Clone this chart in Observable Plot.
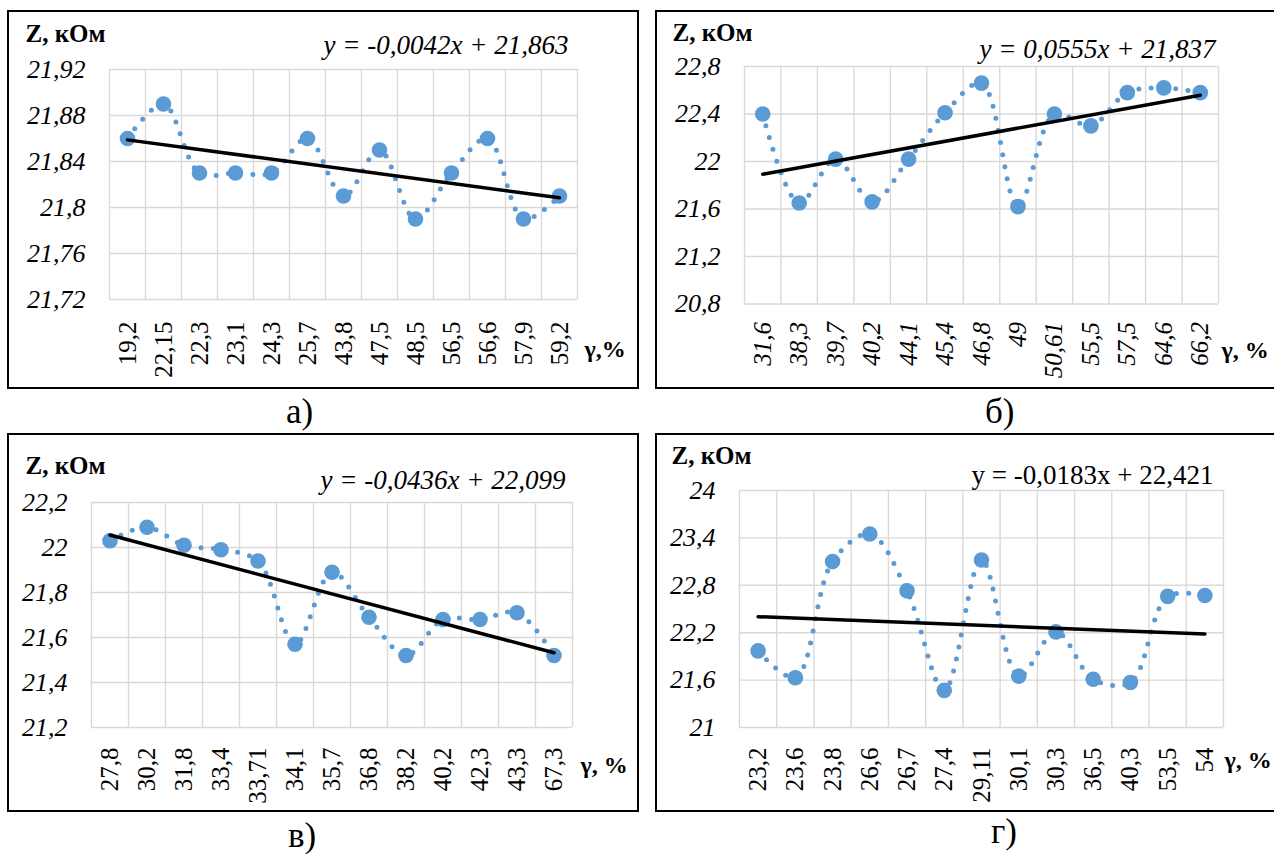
<!DOCTYPE html>
<html><head><meta charset="utf-8">
<script src="https://cdn.jsdelivr.net/npm/d3@7"></script>
<script src="https://cdn.jsdelivr.net/npm/@observablehq/plot@0.6"></script>
<style>
html,body{margin:0;padding:0;background:#fff}
body{width:1274px;height:854px;overflow:hidden;position:relative;font-family:"Liberation Serif","DejaVu Serif",serif}
.frame{position:absolute;border:2.5px solid #000;box-sizing:border-box}
.cap{position:absolute;font-size:35px;line-height:1;color:#000}
</style></head><body>
<script>
// ---- data ----
const labelsA = ["19,2","22,15","22,3","23,1","24,3","25,7","43,8","47,5","48,5","56,5","56,6","57,9","59,2"];
const valuesA = [21.86,21.89,21.83,21.83,21.83,21.86,21.81,21.85,21.79,21.83,21.86,21.79,21.81];
const ticksA = [21.72,21.76,21.8,21.84,21.88,21.92];
const trendA = {slope: -0.0042, intercept: 21.863};
const eqA = "y = -0,0042x + 21,863";

const labelsB = ["31,6","38,3","39,7","40,2","44,1","45,4","46,8","49","50,61","55,5","57,5","64,6","66,2"];
const valuesB = [22.40,21.65,22.02,21.66,22.02,22.41,22.66,21.62,22.40,22.30,22.58,22.62,22.58];
const ticksB = [20.8,21.2,21.6,22,22.4,22.8];
const trendB = {slope: 0.0555, intercept: 21.837};
const eqB = "y = 0,0555x + 21,837";

const labelsC = ["27,8","30,2","31,8","33,4","33,71","34,1","35,7","36,8","38,2","40,2","42,3","43,3","67,3"];
const valuesC = [22.03,22.09,22.01,21.99,21.94,21.57,21.89,21.69,21.52,21.68,21.68,21.71,21.52];
const ticksC = [21.2,21.4,21.6,21.8,22,22.2];
const trendC = {slope: -0.0436, intercept: 22.099};
const eqC = "y = -0,0436x + 22,099";

const labelsD = ["23,2","23,6","23,8","26,6","26,7","27,4","29,11","30,1","30,3","36,5","40,3","53,5","54"];
const valuesD = [21.97,21.63,23.10,23.45,22.73,21.47,23.12,21.65,22.21,21.61,21.57,22.66,22.67];
const ticksD = [21,21.6,22.2,22.8,23.4,24];
const trendD = {slope: -0.0183, intercept: 22.421};
const eqD = "y = -0,0183x + 22,421";

const yTitle = "Z, кОм";
const captions = ["а)","б)","в)","г)"];

// ---- drawing ----
const BLUE = "#5B9BD5", GRID = "#d9d9d9";
const FONT = "Liberation Serif, DejaVu Serif, serif";
const fmt = d => String(+d.toFixed(2)).replace(".", ",");

function panel(o) {
  const n = o.labels.length;
  const idx = d3.range(1, n + 1);
  const bounds = d3.range(0, n + 1).map(i => i + 0.5);
  const data = o.values.map((v, i) => ({i: i + 1, v}));
  const trend = [1, n].map(i => ({i, v: o.trend.slope * i + o.trend.intercept}));
  const fr = document.createElement("div");
  fr.className = "frame";
  Object.assign(fr.style, {left: o.left + "px", top: o.top + "px", width: o.width + "px", height: o.height + "px"});
  document.body.appendChild(fr);
  const chart = Plot.plot({
    width: o.width, height: o.height,
    marginLeft: o.mL, marginRight: o.mR, marginTop: o.mT, marginBottom: o.mB,
    style: `font-family:${FONT};background:transparent;overflow:visible;color:#000;position:absolute;left:${o.left}px;top:${o.top}px;`,
    x: {domain: [0.5, n + 0.5], axis: null},
    y: {domain: [o.ticks[0], o.ticks[o.ticks.length - 1]], axis: null},
    marks: [
      Plot.gridY(o.ticks, {stroke: GRID, strokeOpacity: 1, strokeWidth: 1.4}),
      Plot.gridX(bounds, {stroke: GRID, strokeOpacity: 1, strokeWidth: 1.4}),
      Plot.axisY(o.ticks, {tickSize: 0, tickPadding: 24, fontFamily: FONT, fontSize: 26, fontStyle: "italic", tickFormat: fmt, label: null}),
      Plot.axisX(idx, {tickSize: 0, tickPadding: o.xPad, tickRotate: -90, fontFamily: FONT, fontSize: 25, fontStyle: o.xItalic ? "italic" : "normal", tickFormat: i => o.labels[i - 1], label: null}),
      Plot.line(data, {x: "i", y: "v", curve: "catmull-rom", stroke: BLUE, strokeWidth: 5, strokeDasharray: "0 12.3", strokeLinecap: "round"}),
      Plot.dot(data, {x: "i", y: "v", r: 7.8, fill: BLUE, stroke: null}),
      Plot.line(trend, {x: "i", y: "v", stroke: "#000", strokeWidth: 3.5}),
      Plot.text([yTitle], {text: d => d, frameAnchor: "top-left", dx: o.z[0] - o.mL, dy: o.z[1] - o.mT, lineAnchor: "bottom", textAnchor: "start", fontFamily: FONT, fontWeight: "bold", fontSize: 25, fill: "#000"}),
      Plot.text([o.eq], {text: d => d, frameAnchor: "top-left", dx: o.e[0] - o.mL, dy: o.e[1] - o.mT, lineAnchor: "bottom", textAnchor: "start", fontFamily: FONT, fontStyle: o.eqItalic ? "italic" : "normal", fontSize: 27, fill: "#000"}),
      Plot.text([o.g], {text: d => d, frameAnchor: "top-left", dx: o.gp[0] - o.mL, dy: o.gp[1] - o.mT, lineAnchor: "bottom", textAnchor: "start", fontFamily: FONT, fontWeight: "bold", fontSize: 24, fill: "#000"})
    ]
  });
  document.body.appendChild(chart);
  const c = document.createElement("div");
  c.className = "cap";
  c.textContent = o.cap;
  Object.assign(c.style, {left: o.capPos[0] + "px", top: (o.capPos[1] - 29) + "px"});
  document.body.appendChild(c);
}

panel({left: 7, top: 10, width: 632, height: 379, mL: 102, mR: 62, mT: 59, mB: 90,
  labels: labelsA, values: valuesA, ticks: ticksA, trend: trendA, eq: eqA, eqItalic: true, xItalic: false, xPad: 22,
  z: [18, 31], e: [316, 43], g: "γ,%", gp: [577, 346], cap: captions[0], capPos: [286, 423]});
panel({left: 655, top: 10, width: 640, height: 379, mL: 89, mR: 77, mT: 56, mB: 85.5,
  labels: labelsB, values: valuesB, ticks: ticksB, trend: trendB, eq: eqB, eqItalic: true, xItalic: true, xPad: 18,
  z: [17, 30], e: [324, 47], g: "γ, %", gp: [566, 347], cap: captions[1], capPos: [985, 423]});
panel({left: 7, top: 433, width: 632, height: 379, mL: 84, mR: 67, mT: 69, mB: 85,
  labels: labelsC, values: valuesC, ticks: ticksC, trend: trendC, eq: eqC, eqItalic: true, xItalic: false, xPad: 20,
  z: [18, 40], e: [313, 55], g: "γ, %", gp: [573, 339], cap: captions[2], capPos: [288, 847]});
panel({left: 655, top: 433, width: 640, height: 379, mL: 84, mR: 72, mT: 57, mB: 85,
  labels: labelsD, values: valuesD, ticks: ticksD, trend: trendD, eq: eqD, eqItalic: false, xItalic: false, xPad: 20,
  z: [16, 30], e: [316, 50], g: "γ, %", gp: [569, 334], cap: captions[3], capPos: [991, 843]});
</script>
</body></html>
